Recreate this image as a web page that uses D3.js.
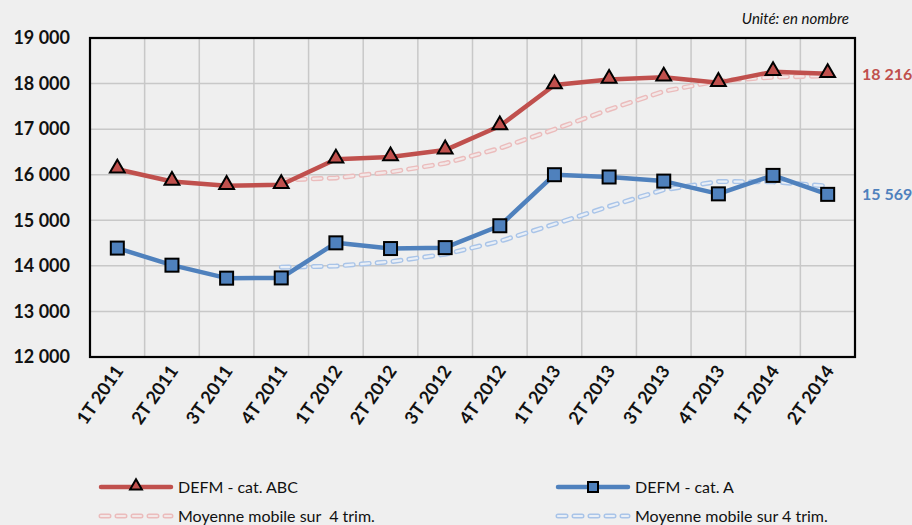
<!DOCTYPE html>
<html>
<head>
<meta charset="utf-8">
<title>DEFM</title>
<style>
	body { margin: 0; background-color: #efefef; font-family: Lato, "Open Sans", sans-serif; }
	svg { display: block; background-color: #efefef; }
	.grid line { stroke: #c8c8c8; stroke-width: 1.5; }
	.axis path, .axis line { display: none; }
	.axis text { font-family: Lato, sans-serif; font-size: 18px; font-weight: bold; fill: #111; }
</style>
</head>
<body>
<div id="chart"></div>
<script src="https://cdnjs.cloudflare.com/ajax/libs/d3/7.8.5/d3.min.js"></script>
<script>
// données
var trimestres = ["1T 2011", "2T 2011", "3T 2011", "4T 2011", "1T 2012", "2T 2012", "3T 2012",
	"4T 2012", "1T 2013", "2T 2013", "3T 2013", "4T 2013", "1T 2014", "2T 2014"];
var catABC = [16120, 15850, 15760, 15780, 16340, 16390, 16540, 17070, 17970, 18090, 18140, 18020, 18260, 18216];
var catA = [14390, 14015, 13730, 13735, 14505, 14380, 14400, 14880, 16000, 15950, 15860, 15580, 15985, 15569];
var moyABC = [null, null, null, 15880, 15930, 16060, 16250, 16580, 16995, 17430, 17830, 18060, 18140, 18170];
var moyA = [null, null, null, 13970, 13995, 14090, 14255, 14540, 14915, 15305, 15670, 15850, 15845, 15750];
var yTicks = [12000, 13000, 14000, 15000, 16000, 17000, 18000, 19000];

var rouge = "#c0504d", bleu = "#4f81bd";
var W = 912, H = 525;
var margin = {left: 90, top: 38, right: 57, bottom: 168};
var width = W - margin.left - margin.right;
var height = H - margin.top - margin.bottom;

var fmt = function(d) { return d3.format(",")(d).replace(",", " "); };

var svg = d3.select("#chart").append("svg").attr("width", W).attr("height", H);
var g = svg.append("g").attr("transform", "translate(" + margin.left + "," + margin.top + ")");

var x = d3.scaleBand().domain(trimestres).range([0, width]);
var y = d3.scaleLinear().domain([12000, 19000]).range([height, 0]);
var cx = function(i) { return x(trimestres[i]) + x.bandwidth() / 2; };

// quadrillage
var grid = g.append("g").attr("class", "grid");
grid.selectAll(".h").data(yTicks.slice(1, -1)).enter().append("line")
	.attr("x1", 0).attr("x2", width).attr("y1", y).attr("y2", y);
grid.selectAll(".v").data(trimestres.slice(1)).enter().append("line")
	.attr("x1", function(d) { return x(d); }).attr("x2", function(d) { return x(d); })
	.attr("y1", 0).attr("y2", height);

// axes
g.append("g").attr("class", "axis y")
	.call(d3.axisLeft(y).tickValues(yTicks).tickFormat(fmt).tickSize(0).tickPadding(20));

var xAx = g.append("g").attr("class", "axis x")
	.attr("transform", "translate(0," + height + ")")
	.call(d3.axisBottom(x).tickSize(0).tickPadding(0));
xAx.selectAll("text")
	.attr("text-anchor", "end")
	.attr("dy", 0)
	.attr("transform", "translate(7,14) rotate(-55)");

g.append("rect").attr("width", width).attr("height", height)
	.attr("fill", "none").attr("stroke", "#000").attr("stroke-width", 2.2);

// courbes
var line = d3.line()
	.defined(function(d) { return d != null; })
	.x(function(d, i) { return cx(i); })
	.y(function(d) { return y(d); });

function moyenne(data, couleur, clair) {
	g.append("path").datum(data).attr("d", line).attr("fill", "none")
		.attr("stroke", couleur).attr("stroke-width", 5).attr("stroke-dasharray", "8,8")
		.attr("stroke-linecap", "round");
	g.append("path").datum(data).attr("d", line).attr("fill", "none")
		.attr("stroke", clair).attr("stroke-width", 2.2).attr("stroke-dasharray", "8,8")
		.attr("stroke-linecap", "round");
}
moyenne(moyABC, "#ebbcbc", "#f2e8e8");
moyenne(moyA, "#a9c4e8", "#eaeff6");

g.append("path").datum(catABC).attr("d", line).attr("fill", "none")
	.attr("stroke", rouge).attr("stroke-width", 4.5).attr("stroke-linejoin", "round");
g.append("path").datum(catA).attr("d", line).attr("fill", "none")
	.attr("stroke", bleu).attr("stroke-width", 4.5).attr("stroke-linejoin", "round");

var tri = d3.symbol().type(d3.symbolTriangle).size(95);
g.selectAll(".tri").data(catABC).enter().append("path")
	.attr("d", tri)
	.attr("transform", function(d, i) { return "translate(" + cx(i) + "," + (y(d) - 1) + ")"; })
	.attr("fill", rouge).attr("stroke", "#000").attr("stroke-width", 2);

g.selectAll(".sq").data(catA).enter().append("rect")
	.attr("x", function(d, i) { return cx(i) - 6.5; })
	.attr("y", function(d) { return y(d) - 6.5; })
	.attr("width", 13).attr("height", 13)
	.attr("fill", bleu).attr("stroke", "#000").attr("stroke-width", 2);

// valeurs finales
g.append("text").attr("x", width + 7).attr("y", y(catABC[13]) + 6)
	.attr("fill", rouge).attr("font-size", "16px").attr("font-weight", "bold")
	.text(fmt(catABC[13]));
g.append("text").attr("x", width + 7).attr("y", y(catA[13]) + 6)
	.attr("fill", bleu).attr("font-size", "16px").attr("font-weight", "bold")
	.text(fmt(catA[13]));

svg.append("text").attr("x", 849).attr("y", 24).attr("text-anchor", "end")
	.attr("font-size", "15px").attr("font-style", "italic").attr("fill", "#111")
	.text("Unité: en nombre");

// légende
var leg = svg.append("g").attr("font-size", "16px").attr("fill", "#111");
function legLigne(x0, yy, couleur, marker, label) {
	leg.append("line").attr("x1", x0).attr("x2", x0 + 70).attr("y1", yy).attr("y2", yy)
		.attr("stroke", couleur).attr("stroke-width", 4.5).attr("stroke-linecap", "round");
	if (marker == "tri") {
		leg.append("path").attr("d", d3.symbol().type(d3.symbolTriangle).size(60))
			.attr("transform", "translate(" + (x0 + 35) + "," + (yy - 1) + ")")
			.attr("fill", couleur).attr("stroke", "#000").attr("stroke-width", 2);
	} else {
		leg.append("rect").attr("x", x0 + 30).attr("y", yy - 5).attr("width", 10).attr("height", 10)
			.attr("fill", couleur).attr("stroke", "#000").attr("stroke-width", 2);
	}
	leg.append("text").attr("x", x0 + 77).attr("y", yy + 6).text(label);
}
function legMoy(x0, yy, couleur, clair, label) {
	leg.append("line").attr("x1", x0).attr("x2", x0 + 70).attr("y1", yy).attr("y2", yy)
		.attr("stroke", couleur).attr("stroke-width", 5).attr("stroke-dasharray", "8,8").attr("stroke-linecap", "round");
	leg.append("line").attr("x1", x0).attr("x2", x0 + 70).attr("y1", yy).attr("y2", yy)
		.attr("stroke", clair).attr("stroke-width", 2.2).attr("stroke-dasharray", "8,8").attr("stroke-linecap", "round");
	leg.append("text").attr("x", x0 + 77).attr("y", yy + 6).text(label);
}
legLigne(101, 487, rouge, "tri", "DEFM - cat. ABC");
legLigne(558, 487, bleu, "sq", "DEFM - cat. A");
legMoy(101, 516, "#ebbcbc", "#f2e8e8", "Moyenne mobile sur\u00a0 4 trim.");
legMoy(558, 516, "#a9c4e8", "#eaeff6", "Moyenne mobile sur 4 trim.");
</script>
</body>
</html>
